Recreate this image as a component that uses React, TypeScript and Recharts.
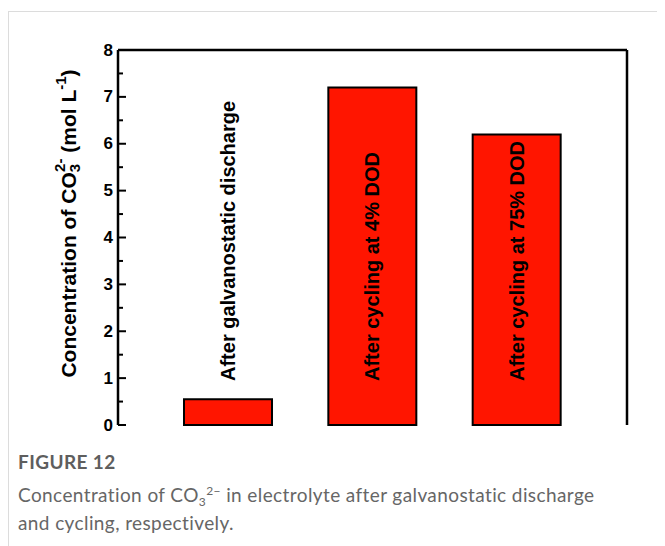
import { BarChart, Bar, XAxis, YAxis, LabelList, Label, CartesianGrid } from "recharts";

const categories = [
  "After galvanostatic discharge",
  "After cycling at 4% DOD",
  "After cycling at 75% DOD",
];
const concentration = [0.55, 7.2, 6.2];
const yTicks = [0, 0.5, 1, 1.5, 2, 2.5, 3, 3.5, 4, 4.5, 5, 5.5, 6, 6.5, 7, 7.5, 8];

const data = categories.map((name, i) => ({ name, value: concentration[i] }));

const font = "'Liberation Sans', Arial, sans-serif";

const YTick = (props: any) => {
  const { x, y, payload } = props;
  const v = Number(payload.value);
  const major = Number.isInteger(v);
  return (
    <g>
      <line x1={x} y1={y} x2={x + (major ? 8 : 5)} y2={y} stroke="#000" strokeWidth={2} />
      {major && (
        <text
          x={x - 5}
          y={y}
          textAnchor="end"
          dominantBaseline="central"
          style={{ fontFamily: font, fontWeight: "bold", fontSize: 17 }}
          fill="#000"
        >
          {v}
        </text>
      )}
    </g>
  );
};

const YLabel = (props: any) => {
  const { viewBox } = props;
  const cx = viewBox.x;
  const cy = viewBox.y + viewBox.height / 2 - 14;
  return (
    <text
      x={cx}
      y={cy}
      transform={`rotate(-90, ${cx}, ${cy})`}
      textAnchor="middle"
      dominantBaseline="central"
      fontFamily={font}
      fontWeight="bold"
      fontSize={21}
      fill="#000"
    >
      Concentration of CO
      <tspan fontSize={15} dy={6}>3</tspan>
      <tspan fontSize={15} dx={-8} dy={-15}>2-</tspan>
      <tspan dy={9}> (mol L</tspan>
      <tspan fontSize={15} dy={-8}>-1</tspan>
      <tspan dy={8}>)</tspan>
    </text>
  );
};

const BarText = (props: any) => {
  const x = Number(props.x);
  const y = Number(props.y);
  const w = Number(props.width);
  const h = Number(props.height);
  const idx = Number(props.index);
  const cx = x + w / 2;
  const cy = y + h - 44;
  return (
    <text
      x={cx}
      y={cy}
      transform={`rotate(-90, ${cx}, ${cy})`}
      textAnchor="start"
      dominantBaseline="central"
      fontFamily={font}
      fontWeight="bold"
      fontSize={20}
      fill="#000"
    >
      {categories[idx]}
    </text>
  );
};

export default function App() {
  return (
    <div
      style={{
        marginTop: 3,
        borderTop: "1px solid #dcdcdc",
        borderLeft: "1px solid #dcdcdc",
        width: 657,
        height: 535,
        boxSizing: "border-box",
      }}
    >
      <BarChart
        width={640}
        height={430}
        data={data}
        margin={{ top: 38, right: 22, bottom: 17, left: 59 }}
        barCategoryGap={0}
      >
        <CartesianGrid
          stroke="#000"
          strokeWidth={2.5}
          horizontalCoordinatesGenerator={({ offset }: any) => [offset.top]}
          verticalCoordinatesGenerator={({ offset }: any) => [offset.left + offset.width]}
        />
        <XAxis
          dataKey="name"
          height={0}
          tick={false}
          tickLine={false}
          axisLine={{ stroke: "#000", strokeWidth: 2.5 }}
          padding={{ left: 38, right: 38 }}
        />
        <YAxis
          type="number"
          domain={[0, 8]}
          ticks={yTicks}
          interval={0}
          width={50}
          tickSize={0}
          tickMargin={0}
          tickLine={false}
          tick={<YTick />}
          axisLine={{ stroke: "#000", strokeWidth: 2.5 }}
        >
          <Label content={<YLabel />} />
        </YAxis>
        <Bar
          dataKey="value"
          barSize={88}
          fill="#ff1500"
          stroke="#000"
          strokeWidth={2}
          isAnimationActive={false}
        >
          <LabelList dataKey="value" content={<BarText />} />
        </Bar>
      </BarChart>
      <div
        style={{
          fontFamily: "Lato, 'Open Sans', sans-serif",
          paddingLeft: 9,
          marginTop: 8,
          letterSpacing: 0.4,
        }}
      >
        <div style={{ color: "#5e5e5e", fontSize: 19, fontWeight: 700, lineHeight: "24px" }}>
          FIGURE 12
        </div>
        <div style={{ color: "#666", fontSize: 19, fontWeight: 400, lineHeight: "25px", marginTop: 8 }}>
          Concentration of CO
          <span style={{ fontSize: 12, position: "relative", top: 4 }}>3</span>
          <span style={{ fontSize: 12, position: "relative", top: -7 }}>2−</span> in electrolyte after galvanostatic discharge
          <br />
          and cycling, respectively.
        </div>
      </div>
    </div>
  );
}
